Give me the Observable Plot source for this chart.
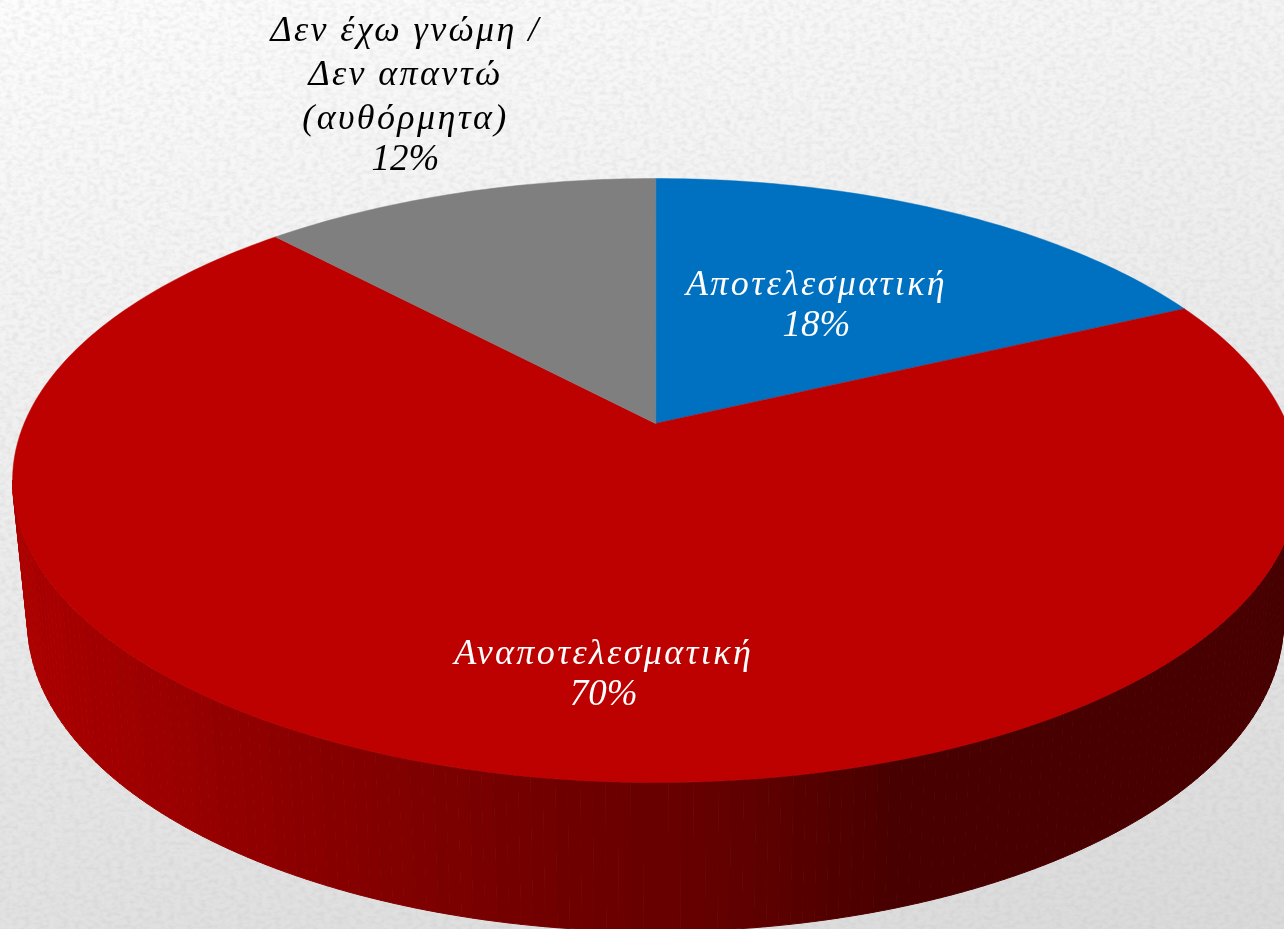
<!DOCTYPE html>
<html>
<head>
<meta charset="utf-8">
<script src="https://cdn.jsdelivr.net/npm/d3@7"></script>
<script src="https://cdn.jsdelivr.net/npm/@observablehq/plot@0.6"></script>
<style>
html,body{margin:0;padding:0;width:1284px;height:929px;overflow:hidden}
body{position:relative;background:linear-gradient(168deg,#fdfdfd 0%,#f0f0f0 35%,#e4e4e4 70%,#dadada 100%)}
#noise{position:absolute;left:0;top:0;width:1284px;height:929px}
#chart{position:absolute;left:0;top:0}
#chart svg{background:transparent;display:block;filter:blur(.45px)}
</style>
</head>
<body>
<svg id="noise" xmlns="http://www.w3.org/2000/svg">
  <filter id="grain" x="0" y="0" width="100%" height="100%">
    <feTurbulence type="fractalNoise" baseFrequency="0.16 0.24" numOctaves="2" seed="4"/>
    <feColorMatrix type="matrix" values="0 0 0 0 0.45  0 0 0 0 0.45  0 0 0 0 0.45  0.45 0 0 0 -0.17"/>
  </filter>
  <rect width="100%" height="100%" filter="url(#grain)"/>
</svg>
<div id="chart"></div>
<script>
// Data
const categories = ["Αποτελεσματική", "Αναποτελεσματική", "Δεν έχω γνώμη /\nΔεν απαντώ\n(αυθόρμητα)"];
const shares = [18, 70, 12];
const sliceColors = ["#0070c0", "#bd0000", "#7f7f7f"];
const labelColors = ["#ffffff", "#ffffff", "#000000"];

// Shading of the wall, left to right
const wallStops = [-1.02, -0.80, -0.56, -0.40, -0.08, 0.07, 0.23, 0.39, 1.02];
const wallReds = [172, 156, 138, 128, 108, 102, 88, 72, 72];

// Perspective of the disc (unit circle to the screen plane)
const k = 0.1887;
const project = (u, v) => ({x: u / (1 + k * v), y: v / (1 + k * v)});
const topE = {cx: 0, cy: -0.1957, rx: 1.0184, ry: 1.037};
const lowE = {cx: 0, cy: -0.68, rx: 0.9946, ry: 1.0646};

// Slices of the top face
const arcs = d3.pie().sort(null).value(d => d)(shares);
const sliceRows = arcs.flatMap((a, i) => {
  const n = Math.ceil((a.endAngle - a.startAngle) * 180 / Math.PI);
  const rim = d3.range(n + 1).map(j => {
    const t = a.startAngle + (a.endAngle - a.startAngle) * j / n;
    return {...project(Math.sin(t), Math.cos(t)), slice: categories[i], fill: sliceColors[i]};
  });
  return [{x: 0, y: 0, slice: categories[i], fill: sliceColors[i]}, ...rim];
});

// Wall: narrow bands between the rims, shaded in visible steps
const redAt = d3.scaleLinear().domain(wallStops).range(wallReds);
const bands = 160;
const wallRows = d3.range(bands).flatMap(i => {
  const t0 = -Math.PI / 2 + Math.PI * i / bands;
  const t1 = -Math.PI / 2 + Math.PI * (i + 1) / bands;
  const red = Math.round(redAt(topE.rx * Math.sin((t0 + t1) / 2)) / 3) * 3;
  const fill = `rgb(${red},0,0)`;
  const at = (e, t) => ({x: e.cx + e.rx * Math.sin(t), y: e.cy - e.ry * Math.cos(t), band: i, fill});
  return [at(topE, t0), at(topE, t1), at(lowE, t1), at(lowE, t0)];
});

const nameRows = [
  {x: 0.255, y: 0.491, text: categories[0], fill: labelColors[0]},
  {x: -0.082, y: -0.776, text: categories[1], fill: labelColors[1]},
  {x: -0.396, y: 1.212, text: categories[2], fill: labelColors[2]}
];
const shareRows = [
  {x: 0.255, y: 0.340, text: shares[0] + "%", fill: labelColors[0]},
  {x: -0.082, y: -0.927, text: shares[1] + "%", fill: labelColors[1]},
  {x: -0.396, y: 0.910, text: shares[2] + "%", fill: labelColors[2]}
];

const chart = Plot.plot({
  width: 1284,
  height: 929,
  margin: 0,
  x: {axis: null, domain: [-1.0374, 0.9962], range: [0, 1284]},
  y: {axis: null, domain: [-1.7376, 1.4526], range: [929, 0]},
  color: {type: "identity"},
  marks: [
    Plot.line(wallRows, {x: "x", y: "y", z: "band", fill: "fill", stroke: "fill", strokeWidth: 1, curve: "linear-closed"}),
    Plot.line(sliceRows, {x: "x", y: "y", z: "slice", fill: "fill", stroke: "fill", strokeWidth: 0.5, curve: "linear-closed"}),
    Plot.text(nameRows, {
      x: "x", y: "y", text: "text", fill: "fill",
      fontFamily: "Liberation Serif", fontStyle: "italic", fontSize: 36,
      lineHeight: 1.22, textAnchor: "middle"
    }),
    Plot.text(shareRows, {
      x: "x", y: "y", text: "text", fill: "fill",
      fontFamily: "Liberation Serif", fontStyle: "italic", fontSize: 37,
      textAnchor: "middle"
    })
  ]
});
// The category names are set wider than the percentages
const textGroups = chart.querySelectorAll('g[aria-label="text"]');
if (textGroups.length) textGroups[0].style.letterSpacing = "2.4px";
document.getElementById("chart").appendChild(chart);
</script>
</body>
</html>
